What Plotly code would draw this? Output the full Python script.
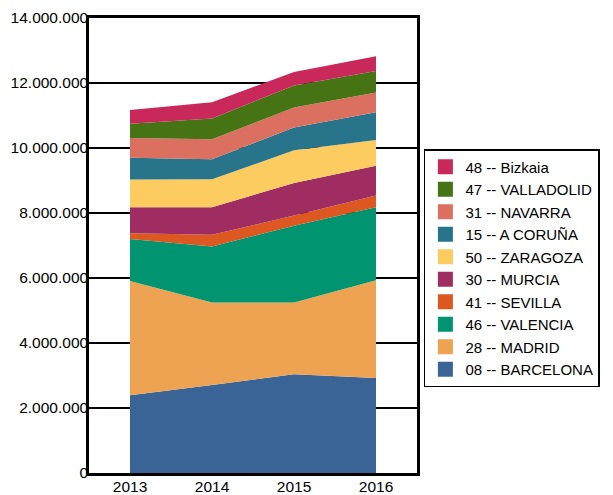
import plotly.graph_objects as go

years = ["2013", "2014", "2015", "2016"]

# provincias, de abajo hacia arriba en la pila
barcelona = [2390000, 2710000, 3040000, 2920000]
madrid = [3520000, 2540000, 2210000, 3010000]
valencia = [1290000, 1720000, 2360000, 2250000]
sevilla = [180000, 360000, 310000, 360000]
murcia = [800000, 850000, 1000000, 910000]
zaragoza = [850000, 860000, 1010000, 800000]
coruna = [670000, 610000, 700000, 850000]
navarra = [610000, 620000, 620000, 610000]
valladolid = [440000, 640000, 670000, 660000]
bizkaia = [420000, 500000, 420000, 450000]

series = [
    ("08 -- BARCELONA", barcelona, "#3A6496"),
    ("28 -- MADRID", madrid, "#EEA353"),
    ("46 -- VALENCIA", valencia, "#009470"),
    ("41 -- SEVILLA", sevilla, "#DC5820"),
    ("30 -- MURCIA", murcia, "#A02D62"),
    ("50 -- ZARAGOZA", zaragoza, "#FDCC60"),
    ("15 -- A CORUÑA", coruna, "#28748A"),
    ("31 -- NAVARRA", navarra, "#DB7060"),
    ("47 -- VALLADOLID", valladolid, "#467414"),
    ("48 -- Bizkaia", bizkaia, "#C8285A"),
]

fig = go.Figure()
for name, vals, color in series:
    fig.add_trace(go.Scatter(
        x=years, y=vals, name=name, stackgroup="one", mode="none",
        fillcolor=color, showlegend=False, hoverinfo="name+y",
    ))
    # entrada de leyenda con cuadrado sólido
    fig.add_trace(go.Scatter(
        x=[None], y=[None], name=name, mode="markers",
        marker=dict(symbol="square", size=15, color=color),
    ))

font = "Liberation Sans, Arial, sans-serif"
# la página añade ~8px de margen al body, se compensa con un lienzo algo menor
fig.update_layout(
    width=605, height=487,
    margin=dict(l=81, r=196, t=10, b=22),
    plot_bgcolor="white", paper_bgcolor="white",
    separators=",.",
    font=dict(family=font, size=15, color="black"),
    legend=dict(
        x=1.021, y=0.712, xanchor="left", yanchor="top",
        traceorder="reversed", bordercolor="black", borderwidth=1.5,
        font=dict(size=15), bgcolor="white",
    ),
)
fig.update_xaxes(
    type="category", range=[-0.5, 3.5], showgrid=False, automargin=False,
    showline=True, linecolor="black", linewidth=2.5, mirror=True,
    ticks="", ticklabelstandoff=-2, tickfont=dict(size=15.5),
)
fig.update_yaxes(
    range=[0, 14000000], dtick=2000000, tickformat=",d", automargin=False,
    showgrid=True, gridcolor="black", gridwidth=2,
    showline=True, linecolor="black", linewidth=2.5, mirror=True,
    zeroline=False, ticks="", ticklabelstandoff=-5, tickfont=dict(size=15.5),
)

fig.write_html("out.html")
